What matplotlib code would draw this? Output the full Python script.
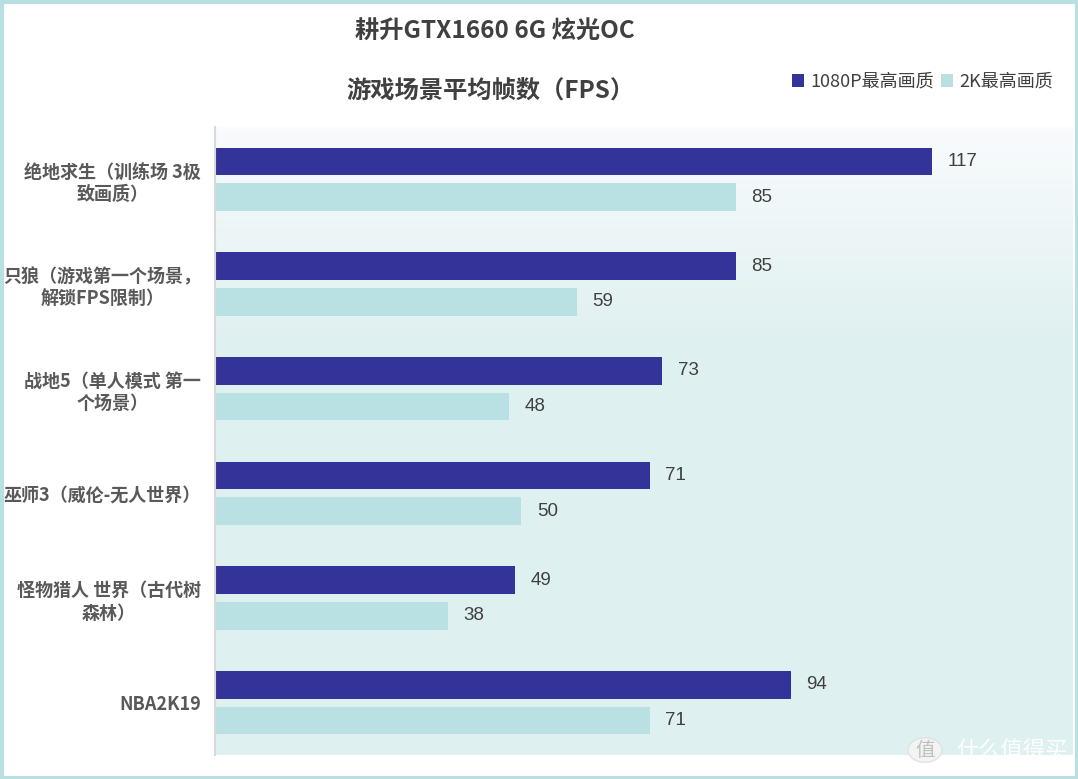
import numpy as np
import matplotlib
matplotlib.use("Agg")
import matplotlib.pyplot as plt
from matplotlib.patches import Rectangle, Circle
from matplotlib.colors import LinearSegmentedColormap

plt.rcParams['font.family'] = ['Noto Sans CJK SC', 'DejaVu Sans']

categories = ["绝地求生（训练场 3极\n致画质）",
              "只狼（游戏第一个场景，\n解锁FPS限制）",
              "战地5（单人模式 第一\n个场景）",
              "巫师3（威伦-无人世界）",
              "怪物猎人 世界（古代树\n森林）",
              "NBA2K19"]
series_names = ["1080P最高画质", "2K最高画质"]
fps_1080p = [117, 85, 73, 71, 49, 94]
fps_2k = [85, 59, 48, 50, 38, 71]
title_lines = ["耕升GTX1660 6G 炫光OC", "游戏场景平均帧数（FPS）"]

c1 = "#343399"
c2 = "#b9e0e3"

W, H = 1078, 779
fig = plt.figure(figsize=(W / 100, H / 100), dpi=100)
fig.patch.set_facecolor("white")

ax = fig.add_axes([215 / W, (H - 755) / H, 858 / W, 628 / H])
ax.set_xlim(0, 140)
n = len(categories)
ax.set_ylim(n - 0.5, -0.5)

# gradient background
grad = np.concatenate([np.linspace(0, 1, 35), np.ones(65)])[:, None]
cmap = LinearSegmentedColormap.from_list("bg", ["#f9fbfd", "#dff0f0"])
ax.imshow(grad, aspect="auto", cmap=cmap, extent=[0, 140, n - 0.5, -0.5],
          zorder=0, interpolation="bilinear")

y = np.arange(n)
off, h = 0.17, 0.265
ax.barh(y - off, fps_1080p, height=h, color=c1, zorder=2, label=series_names[0])
ax.barh(y + off, fps_2k, height=h, color=c2, zorder=2, label=series_names[1])

for yi, v in zip(y - off, fps_1080p):
    ax.text(v + 2.5, yi, str(v), va="center", ha="left", fontsize=13.5,
            color="#404040", family=["Liberation Sans", "DejaVu Sans"])
for yi, v in zip(y + off, fps_2k):
    ax.text(v + 2.5, yi, str(v), va="center", ha="left", fontsize=13.5,
            color="#404040", family=["Liberation Sans", "DejaVu Sans"])

ax.set_yticks(y)
ax.set_yticklabels(categories, fontsize=13, fontweight="bold", color="#595959",
                   multialignment="center", linespacing=1.25)
ax.tick_params(axis="y", length=0, pad=10)
ax.set_xticks([])
for s in ["top", "right", "bottom"]:
    ax.spines[s].set_visible(False)
ax.spines["left"].set_color("#d9d9d9")
ax.spines["left"].set_linewidth(1.5)

# titles
fig.text(495 / W, 1 - 32 / H, title_lines[0], ha="center", va="center",
         fontsize=17.5, fontweight="bold", color="#404040")
fig.text(490 / W, 1 - 92 / H, title_lines[1], ha="center", va="center",
         fontsize=17.5, fontweight="bold", color="#404040")

# legend
leg = fig.legend(loc="center right", bbox_to_anchor=(1060 / W, 1 - 82 / H),
                 ncol=2, frameon=False, fontsize=13, handlelength=0.65,
                 handleheight=0.75, handletextpad=0.35, columnspacing=0.4,
                 borderaxespad=0)
for t in leg.get_texts():
    t.set_color("#404040")

# watermark
fig.text(1067 / W, 1 - 750 / H, "什么值得买", ha="right", va="center",
         fontsize=16, color="white", alpha=0.95)
fig.patches.append(Circle((925 / W, 1 - 750 / H), 17 / W, transform=fig.transFigure,
                          facecolor="#f4f4f4", edgecolor="#e0e0e0", lw=1, alpha=0.95))
fig.text(925 / W, 1 - 750 / H, "值", ha="center", va="center", fontsize=14,
         color="#c0c0c0")

# border
fig.patches.append(Rectangle((1.5 / W, 1.5 / H), (W - 3) / W, (H - 3) / H,
                             transform=fig.transFigure, fill=False,
                             edgecolor="#b9dfe3", lw=3))

fig.savefig("out.png", dpi=100)
